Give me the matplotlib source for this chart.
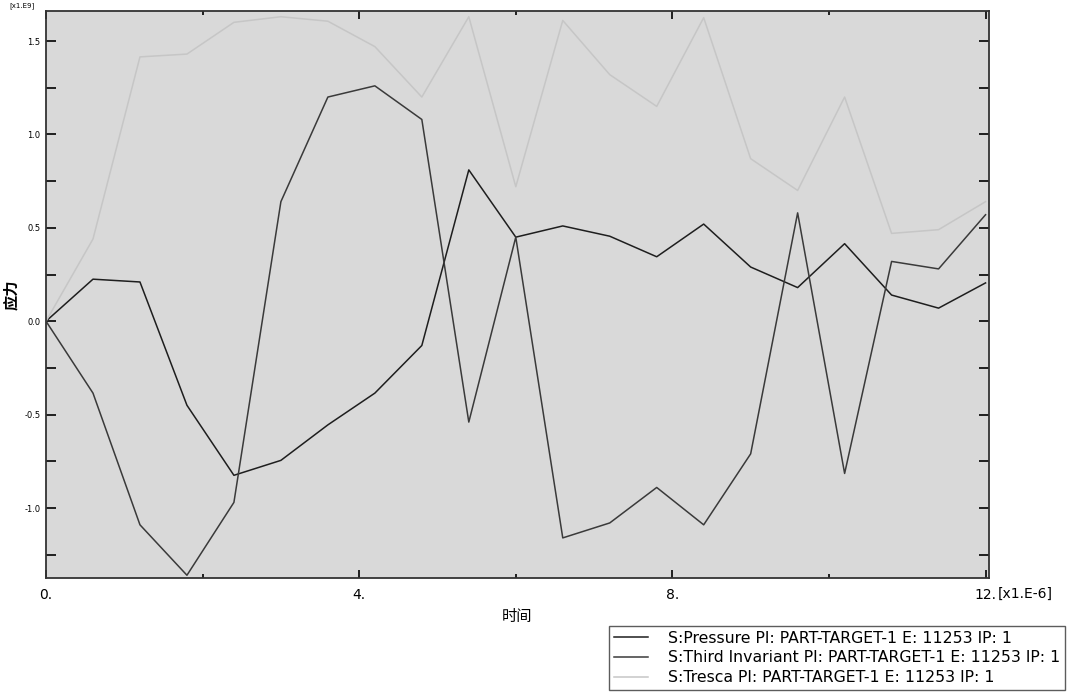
import matplotlib
matplotlib.use("Agg")
import matplotlib.pyplot as plt
from matplotlib.ticker import MultipleLocator

plt.rcParams['font.family'] = ['DejaVu Sans', 'Noto Sans CJK SC']

# time in [x1.E-6], stress in [x1.E9]
time = [0.0, 0.6, 1.2, 1.8, 2.4, 3.0, 3.6, 4.2, 4.8, 5.4, 6.0,
        6.6, 7.2, 7.8, 8.4, 9.0, 9.6, 10.2, 10.8, 11.4, 12.0]
pressure = [0.0, 0.225, 0.21, -0.45, -0.825, -0.745, -0.555, -0.385, -0.13, 0.81, 0.45,
            0.51, 0.455, 0.345, 0.52, 0.29, 0.18, 0.415, 0.14, 0.07, 0.205]
third_inv = [0.0, -0.385, -1.09, -1.36, -0.97, 0.64, 1.20, 1.26, 1.08, -0.54, 0.45,
             -1.16, -1.08, -0.89, -1.09, -0.71, 0.58, -0.815, 0.32, 0.28, 0.57]
tresca = [0.0, 0.44, 1.415, 1.43, 1.60, 1.63, 1.606, 1.47, 1.20, 1.63, 0.72,
          1.61, 1.32, 1.15, 1.625, 0.87, 0.70, 1.20, 0.47, 0.49, 0.64]

labels = ['S:Pressure PI: PART-TARGET-1 E: 11253 IP: 1',
          'S:Third Invariant PI: PART-TARGET-1 E: 11253 IP: 1',
          'S:Tresca PI: PART-TARGET-1 E: 11253 IP: 1']
colors = ['#1e1e1e', '#3a3a3a', '#c6c6c6']

fig = plt.figure(figsize=(10.7, 6.95), dpi=100)
ax = fig.add_axes([0.043, 0.168, 0.881, 0.816])
ax.set_facecolor('#d9d9d9')

for y, lab, c in zip([pressure, third_inv, tresca], labels, colors):
    ax.plot(time, y, color=c, lw=1.1, label=lab)

ax.set_xlim(0, 12.04)
ax.set_ylim(-1.376, 1.66)

ax.xaxis.set_minor_locator(MultipleLocator(2))
ax.yaxis.set_minor_locator(MultipleLocator(0.25))
ax.set_xticks([0, 4, 8, 12])
ax.set_xticklabels(['0.', '4.', '8.', '12.'])
ax.set_yticks([-1.0, -0.5, 0.0, 0.5, 1.0, 1.5])
ax.set_yticklabels(['-1.0', '-0.5', '0.0', '0.5', '1.0', '1.5'])

ax.tick_params(axis='x', which='both', direction='in', top=True, bottom=True,
               labelsize=10, pad=7, width=1.2)
ax.tick_params(axis='x', which='major', length=6)
ax.tick_params(axis='x', which='minor', length=3)
ax.tick_params(axis='y', which='both', direction='in', left=True, right=True,
               labelsize=6, pad=4, width=1.2, length=7)

for sp in ax.spines.values():
    sp.set_color('#333333')
    sp.set_linewidth(1.3)

# unit multiplier next to the last x tick
ax.annotate('[x1.E-6]', xy=(12.0, 0), xycoords=ax.get_xaxis_transform(),
            xytext=(12, -9), textcoords='offset pixels',
            ha='left', va='top', fontsize=10)
fig.text(0.009, 0.997, '[x1.E9]', ha='left', va='top', fontsize=5)

ax.set_xlabel('时间', family=['Noto Sans CJK SC'], fontsize=11, labelpad=4)
ax.set_ylabel('应力', family=['Noto Sans CJK SC'], fontsize=11, labelpad=4,
              fontweight='bold')

leg = fig.legend(loc='lower right', bbox_to_anchor=(0.998, 0.003), fontsize=11.3,
                 frameon=True, fancybox=False, edgecolor='#333333',
                 handlelength=2.2, handletextpad=1.25, borderpad=0.3,
                 labelspacing=0.3, borderaxespad=0.2)
leg.get_frame().set_linewidth(1.0)

fig.savefig('out.png', dpi=100)
